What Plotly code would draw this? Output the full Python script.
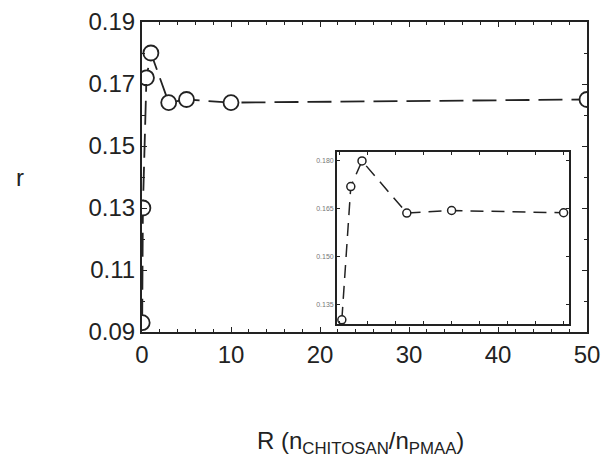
import plotly.graph_objects as go

# Main data
R_main = [0.02, 0.1, 0.5, 1, 3, 5, 10, 50]
r_main = [0.093, 0.130, 0.172, 0.180, 0.164, 0.165, 0.164, 0.165]

# Inset data
R_inset = [0.1, 0.5, 1, 3, 5, 10]
r_inset = [0.1303, 0.172, 0.180, 0.1637, 0.1645, 0.1638]

x_ticks = [0, 10, 20, 30, 40, 50]
y_ticks = [0.09, 0.11, 0.13, 0.15, 0.17, 0.19]
y_tick_labels = ["0.09", "0.11", "0.13", "0.15", "0.17", "0.19"]
inset_y_ticks = [0.135, 0.150, 0.165, 0.180]
inset_y_labels = ["0.135", "0.150", "0.165", "0.180"]

FONT = "Liberation Sans, Arial, sans-serif"
INK = "#222222"

fig = go.Figure()

fig.add_trace(go.Scatter(
    x=R_main, y=r_main, mode="lines+markers",
    line=dict(color=INK, width=1.8, dash="24px,9px"),
    marker=dict(symbol="circle", size=15, color="white",
                line=dict(color=INK, width=1.8)),
    xaxis="x", yaxis="y", showlegend=False,
))

fig.add_trace(go.Scatter(
    x=R_inset, y=r_inset, mode="lines+markers",
    line=dict(color=INK, width=1.5, dash="13px,8px"),
    marker=dict(symbol="circle", size=8, color="white",
                line=dict(color=INK, width=1.5)),
    xaxis="x2", yaxis="y2", showlegend=False,
))

fig.update_layout(
    width=604, height=462,
    margin=dict(l=142, r=17, t=22, b=130, autoexpand=False),
    paper_bgcolor="white", plot_bgcolor="white",
    font=dict(family=FONT, color=INK),
    xaxis=dict(
        domain=[0, 1], range=[0, 50], tickvals=x_ticks,
        ticks="inside", ticklen=5, tickwidth=1, tickcolor=INK,
        showline=True, linecolor=INK, linewidth=2, mirror="allticks",
        showgrid=False, zeroline=False,
        tickfont=dict(size=24, family=FONT, color=INK),
        minor=dict(dtick=2, ticks="inside", ticklen=3, tickcolor=INK),
    ),
    yaxis=dict(
        domain=[0, 1], range=[0.09, 0.19], tickvals=y_ticks,
        ticktext=y_tick_labels,
        ticks="inside", ticklen=5, tickwidth=1, tickcolor=INK,
        showline=True, linecolor=INK, linewidth=2, mirror="allticks",
        showgrid=False, zeroline=False,
        tickfont=dict(size=24, family=FONT, color=INK),
        minor=dict(dtick=0.01, ticks="inside", ticklen=3, tickcolor=INK),
    ),
    xaxis2=dict(
        domain=[0.438, 0.960], anchor="y2", range=[-0.12, 10.25],
        showticklabels=False, ticks="inside", ticklen=3, tickcolor=INK,
        dtick=1.25,
        showline=True, linecolor=INK, linewidth=1.5, mirror="allticks",
        showgrid=False, zeroline=False,
    ),
    yaxis2=dict(
        domain=[0.0258, 0.5806], anchor="x2", range=[0.129, 0.1828],
        tickvals=inset_y_ticks, ticktext=inset_y_labels,
        ticks="inside", ticklen=3, tickcolor=INK,
        showline=True, linecolor=INK, linewidth=1.5, mirror="allticks",
        showgrid=False, zeroline=False,
        tickfont=dict(size=7, family=FONT, color="#777777"),
    ),
    annotations=[
        dict(text="R (n<sub>CHITOSAN</sub>/n<sub>PMAA</sub>)",
             xref="paper", yref="paper", x=(360 - 142) / 445, y=(332 - 442) / 310,
             xanchor="center", yanchor="middle", showarrow=False,
             font=dict(size=24, family=FONT, color=INK)),
        dict(text="r", xref="paper", yref="paper",
             x=(20 - 142) / 445, y=(332 - 178) / 310,
             xanchor="center", yanchor="middle", showarrow=False,
             font=dict(size=24, family=FONT, color=INK)),
    ],
)

fig.write_html(
    "out.html",
    config={"displayModeBar": False},
    post_script="document.body.style.margin='0';document.body.style.overflow='hidden';",
)
